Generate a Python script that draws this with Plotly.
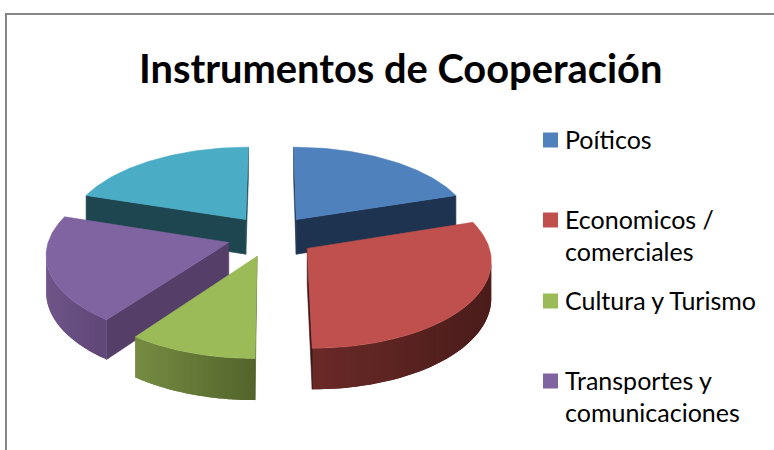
import numpy as np
import plotly.graph_objects as go

# values (fifth slice has no visible legend entry, it falls off the page)
categories = ["Poíticos", "Economicos /<br>comerciales", "Cultura y Turismo", "Transportes y<br>comunicaciones", ""]
values = [2, 3, 1, 2, 2]
top_colors = ["#4f81bd", "#c0504d", "#9bbb59", "#8064a2", "#4bacc6"]
wall_colors = ["#1d3350", "#3f1716", "#4e5f2b", "#553e68", "#1e4650"]
rim_left = ["#34567f", "#6a2a28", "#768c42", "#6f5589", "#317080"]
rim_right = ["#34567f", "#4a1c1a", "#53652c", "#5f4777", "#317080"]

title = "Instrumentos de Cooperación"
legend_rows = [140, 220, 301, 381]

# tilted pie projection, in page pixels
CX, CY = 271, 236
RADIUS, EXPLODE = 179, 44
SQUASH, PERSPECTIVE, DEPTH = 0.473, 1 / 1500, 35.5


def project(x, y, drop=0.0):
    s = 1 / (1 + PERSPECTIVE * y)
    return CX + x * s, CY - SQUASH * y * s + drop * s


def mix(c1, c2, t):
    a = [int(c1[i:i + 2], 16) for i in (1, 3, 5)]
    b = [int(c2[i:i + 2], 16) for i in (1, 3, 5)]
    return "rgb(%d,%d,%d)" % tuple(round(p + (q - p) * t) for p, q in zip(a, b))


def patch(fig, xs, ys, color, edge=True):
    line = dict(color=color, width=0.6) if edge else dict(width=0)
    fig.add_trace(go.Scatter(x=xs, y=ys, mode="lines" if edge else "none", fill="toself", fillcolor=color,
                             line=line, hoverinfo="skip", showlegend=False))


def draw_slice(fig, start, end, i):
    mid = np.radians((start + end) / 2)
    ox, oy = EXPLODE * np.sin(mid), EXPLODE * np.cos(mid)
    ang = np.radians(np.linspace(start, end, 61))
    wx = np.r_[ox, ox + RADIUS * np.sin(ang)]
    wy = np.r_[oy, oy + RADIUS * np.cos(ang)]
    px, py = project(wx, wy)
    bx, by = project(wx, wy, DEPTH)

    # a side shows when its edge runs leftwards on screen, going clockwise round the slice
    n = len(px)
    rim_span = max(px[1:].max() - px[1:].min(), 1)
    for a in range(1, n - 1):
        if px[a + 1] >= px[a]:
            continue
        # each band runs over the start of the next one, so no seam shows between them
        idx = list(range(a, min(a + 3, n)))
        t = (px[a] - px[1:].min()) / rim_span
        patch(fig, np.r_[px[idx], bx[idx[::-1]], px[a]], np.r_[py[idx], by[idx[::-1]], py[a]],
              mix(rim_left[i], rim_right[i], t), edge=False)
    for a, b in ((0, 1), (n - 1, 0)):
        if px[b] < px[a]:
            patch(fig, [px[a], px[b], bx[b], bx[a], px[a]], [py[a], py[b], by[b], by[a], py[a]], wall_colors[i])

    patch(fig, np.r_[px, px[0]], np.r_[py, py[0]], top_colors[i])


fig = go.Figure()

edges = np.r_[0, np.cumsum(values)] / sum(values) * 360
# back slices first so the front ones sit over them
for i in (4, 0, 3, 2, 1):
    draw_slice(fig, edges[i], edges[i + 1], i)

# legend keys and texts
fig.add_trace(go.Scatter(x=[550.5] * len(legend_rows), y=legend_rows, mode="markers",
                         marker=dict(symbol="square", size=15, color=top_colors[:4], line=dict(width=0)),
                         hoverinfo="skip", showlegend=False))
for row, name in zip(legend_rows, categories):
    for k, line in enumerate(name.split("<br>")):
        fig.add_annotation(x=563, y=row - 1 + k * 32, text=line, showarrow=False, xanchor="left", yanchor="middle",
                           font=dict(family="Lato", size=25, color="#000000"))

fig.add_annotation(x=400.5, y=67, text="<b>" + title + "</b>", showarrow=False, xanchor="center", yanchor="middle",
                   font=dict(family="Lato", size=39.8, color="#000000"))

# chart frame, runs off the page on the right and at the bottom
fig.add_shape(type="path", path="M 6 460 L 6 14 L 790 14", line=dict(color="#868686", width=2), layer="below")

fig.update_xaxes(range=[0, 774], visible=False, fixedrange=True)
fig.update_yaxes(range=[450, 0], visible=False, fixedrange=True)
fig.update_layout(width=774, height=450, margin=dict(l=0, r=0, t=0, b=0),
                  paper_bgcolor="white", plot_bgcolor="white", showlegend=False)

fig.write_html("out.html", config=dict(displayModeBar=False), post_script="document.body.style.margin='0';")
